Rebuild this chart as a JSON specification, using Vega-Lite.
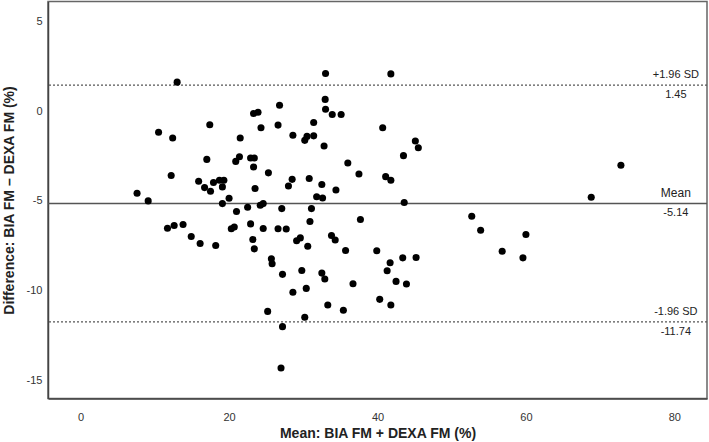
{
  "$schema": "https://vega.github.io/schema/vega-lite/v6.json",
  "width": 659,
  "height": 397,
  "autosize": {"type": "none"},
  "padding": {"left": 48, "top": 1.5, "right": 2, "bottom": 43.5},
  "background": "white",
  "config": {
    "view": {"stroke": "#666", "strokeWidth": 1.5},
    "font": "Liberation Sans"
  },
  "datasets": {
    "points": [
      {"mean": 7.6, "diff": -4.57}, {"mean": 9.1, "diff": -5.0}, {"mean": 10.5, "diff": -1.18}, {"mean": 12.4, "diff": -1.5},
      {"mean": 12.2, "diff": -3.59}, {"mean": 13.0, "diff": 1.61}, {"mean": 11.7, "diff": -6.52}, {"mean": 12.6, "diff": -6.37},
      {"mean": 13.8, "diff": -6.31}, {"mean": 14.9, "diff": -6.98}, {"mean": 16.1, "diff": -7.37}, {"mean": 18.2, "diff": -7.48},
      {"mean": 15.9, "diff": -3.91}, {"mean": 16.7, "diff": -4.26}, {"mean": 17.5, "diff": -4.46}, {"mean": 17.9, "diff": -3.98},
      {"mean": 17.0, "diff": -2.69}, {"mean": 17.4, "diff": -0.76}, {"mean": 18.7, "diff": -3.85}, {"mean": 19.3, "diff": -3.85},
      {"mean": 19.1, "diff": -4.22}, {"mean": 19.1, "diff": -5.15}, {"mean": 20.0, "diff": -4.85}, {"mean": 20.3, "diff": -6.55},
      {"mean": 20.7, "diff": -6.45}, {"mean": 21.0, "diff": -5.59}, {"mean": 20.9, "diff": -2.8}, {"mean": 21.4, "diff": -2.54},
      {"mean": 21.5, "diff": -1.5}, {"mean": 22.5, "diff": -5.35}, {"mean": 22.9, "diff": -6.28}, {"mean": 22.9, "diff": -2.61},
      {"mean": 23.4, "diff": -2.61}, {"mean": 23.3, "diff": -3.11}, {"mean": 23.5, "diff": -4.31}, {"mean": 23.3, "diff": -0.13},
      {"mean": 23.9, "diff": -0.07}, {"mean": 24.3, "diff": -0.93}, {"mean": 24.2, "diff": -5.24}, {"mean": 24.6, "diff": -5.15},
      {"mean": 24.6, "diff": -6.54}, {"mean": 23.2, "diff": -7.15}, {"mean": 23.4, "diff": -7.67}, {"mean": 25.3, "diff": -3.44},
      {"mean": 25.7, "diff": -8.22}, {"mean": 25.8, "diff": -8.5}, {"mean": 25.2, "diff": -11.15}, {"mean": 26.6, "diff": -0.78},
      {"mean": 26.8, "diff": 0.32}, {"mean": 26.6, "diff": -6.55}, {"mean": 27.7, "diff": -6.56}, {"mean": 27.1, "diff": -5.43},
      {"mean": 27.2, "diff": -9.09}, {"mean": 27.2, "diff": -12.0}, {"mean": 27.0, "diff": -14.3}, {"mean": 28.6, "diff": -1.35},
      {"mean": 28.5, "diff": -3.8}, {"mean": 28.0, "diff": -4.17}, {"mean": 29.1, "diff": -7.22}, {"mean": 29.6, "diff": -7.06},
      {"mean": 29.8, "diff": -8.87}, {"mean": 28.6, "diff": -10.09}, {"mean": 30.2, "diff": -1.63}, {"mean": 30.5, "diff": -1.41},
      {"mean": 31.4, "diff": -1.38}, {"mean": 31.4, "diff": -0.64}, {"mean": 30.8, "diff": -3.75}, {"mean": 31.1, "diff": -5.43},
      {"mean": 30.9, "diff": -6.15}, {"mean": 30.6, "diff": -7.52}, {"mean": 30.4, "diff": -9.87}, {"mean": 30.2, "diff": -11.48},
      {"mean": 31.8, "diff": -4.77}, {"mean": 32.6, "diff": -4.84}, {"mean": 32.5, "diff": -4.09}, {"mean": 32.8, "diff": -1.94},
      {"mean": 33.0, "diff": 2.09}, {"mean": 32.95, "diff": 0.65}, {"mean": 33.0, "diff": 0.1}, {"mean": 33.9, "diff": -0.19},
      {"mean": 35.1, "diff": -0.19}, {"mean": 34.4, "diff": -4.39}, {"mean": 33.8, "diff": -6.93}, {"mean": 34.3, "diff": -7.18},
      {"mean": 32.5, "diff": -9.02}, {"mean": 32.9, "diff": -9.35}, {"mean": 33.3, "diff": -10.8}, {"mean": 35.4, "diff": -11.09},
      {"mean": 35.7, "diff": -7.76}, {"mean": 36.0, "diff": -2.89}, {"mean": 37.5, "diff": -3.5}, {"mean": 37.7, "diff": -6.04},
      {"mean": 36.7, "diff": -9.61}, {"mean": 39.9, "diff": -7.78}, {"mean": 40.3, "diff": -10.48}, {"mean": 41.8, "diff": -10.8},
      {"mean": 41.7, "diff": -8.44}, {"mean": 41.3, "diff": -8.89}, {"mean": 43.4, "diff": -8.17}, {"mean": 45.2, "diff": -8.15},
      {"mean": 42.5, "diff": -9.48}, {"mean": 43.9, "diff": -9.63}, {"mean": 40.7, "diff": -0.93}, {"mean": 41.8, "diff": 2.07},
      {"mean": 41.1, "diff": -3.65}, {"mean": 41.8, "diff": -3.85}, {"mean": 43.6, "diff": -5.09}, {"mean": 43.5, "diff": -2.48},
      {"mean": 45.1, "diff": -1.67}, {"mean": 45.5, "diff": -2.04}, {"mean": 52.7, "diff": -5.85}, {"mean": 53.9, "diff": -6.63},
      {"mean": 56.8, "diff": -7.8}, {"mean": 59.6, "diff": -8.17}, {"mean": 60.0, "diff": -6.87}, {"mean": 68.8, "diff": -4.8},
      {"mean": 72.8, "diff": -3.02}
    ],
    "lines": [
      {"name": "+1.96 SD", "value": 1.45, "label": "1.45", "kind": "limit"},
      {"name": "Mean", "value": -5.14, "label": "-5.14", "kind": "mean"},
      {"name": "-1.96 SD", "value": -11.74, "label": "-11.74", "kind": "limit"}
    ]
  },
  "encoding": {
    "x": {
      "type": "quantitative",
      "scale": {"domain": [-4.4, 84.4], "nice": false, "zero": false},
      "axis": {
        "values": [0, 20, 40, 60, 80],
        "title": "Mean: BIA FM + DEXA FM (%)",
        "ticks": false,
        "grid": false,
        "domainColor": "#444",
        "domainWidth": 1.5,
        "labelPadding": 13,
        "labelFontSize": 11,
        "labelColor": "#333",
        "titleFontSize": 14,
        "titleFontWeight": "bold",
        "titleColor": "#222",
        "titlePadding": 4
      }
    },
    "y": {
      "type": "quantitative",
      "scale": {"domain": [-16, 6.1], "nice": false, "zero": false},
      "axis": {
        "values": [-15, -10, -5, 0, 5],
        "labelExpr": "'' + datum.value",
        "title": "Difference: BIA FM – DEXA FM (%)",
        "ticks": false,
        "grid": false,
        "domainColor": "#444",
        "domainWidth": 1.5,
        "labelPadding": 6,
        "labelFontSize": 11,
        "labelColor": "#333",
        "titleFontSize": 14,
        "titleFontWeight": "bold",
        "titleColor": "#222",
        "titlePadding": 10
      }
    }
  },
  "layer": [
    {
      "data": {"name": "lines"},
      "transform": [{"filter": "datum.kind === 'limit'"}],
      "mark": {"type": "rule", "color": "#555", "strokeWidth": 1.3, "strokeDash": [2, 2]},
      "encoding": {"y": {"field": "value", "type": "quantitative"}}
    },
    {
      "data": {"name": "lines"},
      "transform": [{"filter": "datum.kind === 'mean'"}],
      "mark": {"type": "rule", "color": "#555", "strokeWidth": 1.5},
      "encoding": {"y": {"field": "value", "type": "quantitative"}}
    },
    {
      "data": {"name": "points"},
      "mark": {"type": "circle", "size": 50, "color": "black", "opacity": 1},
      "encoding": {
        "x": {"field": "mean", "type": "quantitative"},
        "y": {"field": "diff", "type": "quantitative"}
      }
    },
    {
      "data": {"name": "lines"},
      "mark": {"type": "text", "fontSize": 11, "color": "#222", "dy": -10, "align": "center", "baseline": "middle"},
      "encoding": {
        "x": {"datum": 80.2},
        "y": {"field": "value", "type": "quantitative"},
        "text": {"field": "name"},
        "size": {"condition": {"test": "datum.kind === 'mean'", "value": 12}, "value": 11}
      }
    },
    {
      "data": {"name": "lines"},
      "mark": {"type": "text", "fontSize": 11, "color": "#222", "dy": 10, "align": "center", "baseline": "middle"},
      "encoding": {
        "x": {"datum": 80.2},
        "y": {"field": "value", "type": "quantitative"},
        "text": {"field": "label"}
      }
    }
  ]
}
